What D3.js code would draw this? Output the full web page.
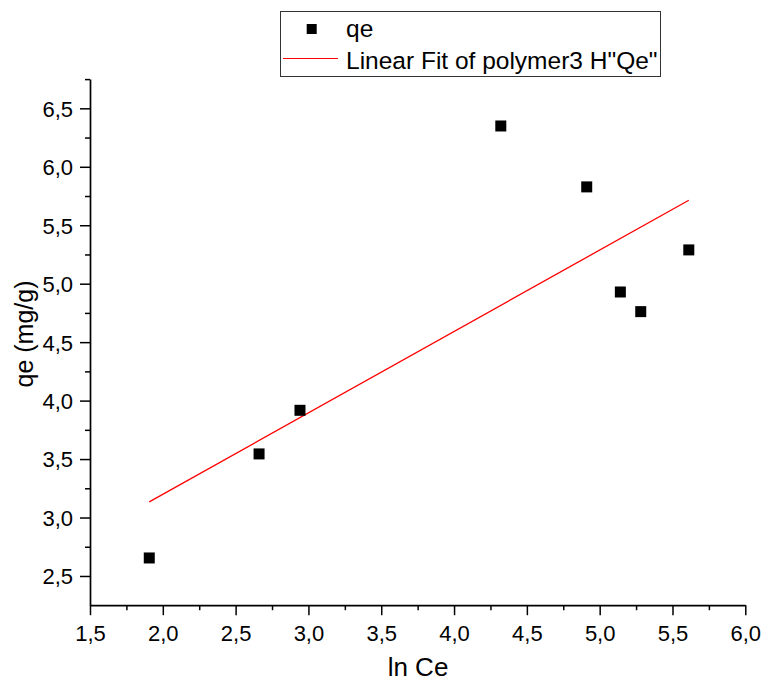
<!DOCTYPE html>
<html>
<head>
<meta charset="utf-8">
<script src="https://cdn.jsdelivr.net/npm/d3@7/dist/d3.min.js"></script>
<style>
  html, body { margin: 0; padding: 0; background: #fff; }
  svg { display: block; font-family: "Liberation Sans", Arial, sans-serif; }
</style>
</head>
<body>
<svg id="chart" width="763" height="684"></svg>
<script>
// Measured points: ln Ce vs qe
const lnCe = [1.907, 2.661, 2.942, 4.321, 4.911, 5.142, 5.282, 5.612];
const qe   = [2.654, 3.544, 3.917, 6.349, 5.828, 4.929, 4.761, 5.289];

// Linear fit end points over the data range
const fitX = [1.907, 5.612];
const fitY = [3.134, 5.714];

// Axis tick values
const xTicks = [1.5, 2.0, 2.5, 3.0, 3.5, 4.0, 4.5, 5.0, 5.5, 6.0];
const xMinorTicks = [1.75, 2.25, 2.75, 3.25, 3.75, 4.25, 4.75, 5.25, 5.75];
const yTicks = [2.5, 3.0, 3.5, 4.0, 4.5, 5.0, 5.5, 6.0, 6.5];
const yMinorTicks = [2.75, 3.25, 3.75, 4.25, 4.75, 5.25, 5.75, 6.25, 6.75];

const legendLabels = ["qe", "Linear Fit of polymer3 H\"Qe\""];

const svg = d3.select("#chart");
const plotL = 90, plotR = 745.3, plotT = 79.1, plotB = 605.2;

const x = d3.scaleLinear().domain([1.5, 6.0]).range([plotL, plotR]);
const y = d3.scaleLinear().domain([2.25, 6.75]).range([plotB, plotT]);

const fmt = d3.formatLocale({ decimal: ",", thousands: ".", grouping: [3], currency: ["", ""] }).format(".1f");

// X axis: major + minor ticks
const gx = svg.append("g").attr("transform", `translate(0,${plotB})`);
gx.call(d3.axisBottom(x).tickValues(xTicks).tickFormat(fmt).tickSize(10).tickSizeOuter(0));
gx.append("g").call(d3.axisBottom(x).tickValues(xMinorTicks).tickFormat("").tickSize(5).tickSizeOuter(0))
  .select(".domain").remove();

// Y axis: major + minor ticks
const gy = svg.append("g").attr("transform", `translate(${plotL},0)`);
gy.call(d3.axisLeft(y).tickValues(yTicks).tickFormat(fmt).tickSize(10).tickSizeOuter(0));
gy.append("g").call(d3.axisLeft(y).tickValues(yMinorTicks).tickFormat("").tickSize(5).tickSizeOuter(0))
  .select(".domain").remove();

svg.selectAll(".domain").attr("stroke", "#000").attr("stroke-width", 1.7);
svg.selectAll(".tick line").attr("stroke", "#000").attr("stroke-width", 1.5);
svg.selectAll(".tick text").attr("fill", "#000").attr("font-size", 22)
  .attr("font-family", "'Liberation Sans', Arial, sans-serif");
gx.selectAll(".tick text").attr("y", 36).attr("dy", 0);
gy.selectAll(".tick text").attr("x", -17).attr("dy", "0.36em");

// Axis titles
svg.append("text").attr("x", 418).attr("y", 676).attr("text-anchor", "middle")
  .attr("font-size", 26).text("ln Ce");
svg.append("text").attr("transform", "translate(33,334) rotate(-90)")
  .attr("text-anchor", "middle").attr("font-size", 25).text("qe (mg/g)");

// Fit line
svg.append("path")
  .datum(fitX.map((d, i) => [d, fitY[i]]))
  .attr("d", d3.line().x(d => x(d[0])).y(d => y(d[1])))
  .attr("fill", "none").attr("stroke", "#ff0000").attr("stroke-width", 1.3);

// Data markers
const ms = 11;
svg.append("g").selectAll("rect")
  .data(lnCe.map((d, i) => [d, qe[i]]))
  .join("rect")
  .attr("x", d => x(d[0]) - ms / 2)
  .attr("y", d => y(d[1]) - ms / 2)
  .attr("width", ms).attr("height", ms)
  .attr("fill", "#000");

// Legend
const lg = svg.append("g");
lg.append("rect").attr("x", 280.5).attr("y", 11.5).attr("width", 380).attr("height", 65)
  .attr("fill", "#fff").attr("stroke", "#333").attr("stroke-width", 1);
lg.append("rect").attr("x", 311.7 - 5).attr("y", 29 - 5).attr("width", 10).attr("height", 10).attr("fill", "#000");
lg.append("text").attr("x", 346).attr("y", 37).attr("font-size", 24.5).text(legendLabels[0]);
lg.append("line").attr("x1", 283).attr("x2", 338).attr("y1", 58.5).attr("y2", 58.5)
  .attr("stroke", "#ff0000").attr("stroke-width", 1.2);
lg.append("text").attr("x", 346).attr("y", 69).attr("font-size", 24.5).text(legendLabels[1]);
</script>
</body>
</html>
